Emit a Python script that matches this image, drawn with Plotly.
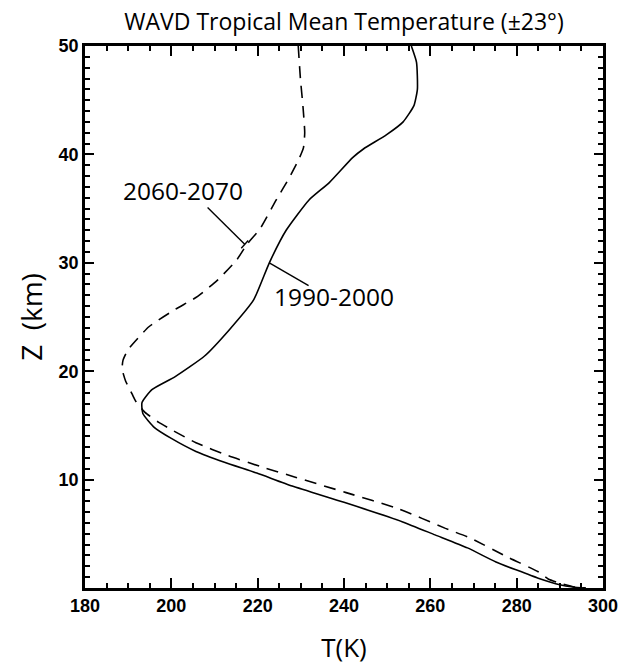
import plotly.graph_objects as go

# 1990-2000 profile (solid)
z_1990 = [50, 48.5, 46, 44.5, 43, 41.8, 40.5, 39.7, 37.4, 35.8, 33.0, 30.0, 26.6, 23.9,
          21.4, 19.5, 18.3, 17.1, 16.1, 14.8, 13.8, 12.6, 11.6, 10.6, 9.4, 7.9, 6.1,
          4.9, 3.7, 2.4, 1.65, 0.9, 0.3, 0.1, 0.0]
t_1990 = [255.6, 256.8, 257.0, 256.2, 253.7, 249.8, 244.5, 242.0, 236.6, 231.9, 226.6,
          222.7, 219.1, 213.6, 207.7, 200.9, 195.5, 193.2, 193.4, 196.1, 200.0, 205.7,
          212.3, 219.8, 228.0, 240.0, 253.6, 261.1, 268.6, 275.2, 280.0, 285.0, 290.0,
          293.0, 296.0]

# 2060-2070 profile (dashed)
z_2060 = [50, 47, 44.4, 42, 40.6, 39.7, 37.9, 35.8, 33.1, 31.7, 30.3, 28.4, 26.9, 25.7,
          24.1, 22.0, 21.0, 20.2, 19.1, 17.9, 17.2, 16.2, 15.3, 14.5, 13.4, 12.2, 11.2,
          10.2, 8.8, 7.3, 5.5, 4.6, 2.75, 1.5, 0.83, 0.45, 0.1, 0.0]
t_2060 = [229.4, 229.9, 230.5, 230.9, 230.6, 229.7, 227.4, 224.3, 220.5, 217.5, 215.2,
          210.7, 206.1, 200.9, 194.8, 190.0, 188.8, 188.6, 189.4, 190.9, 191.8, 193.9,
          197.0, 200.5, 205.7, 213.2, 220.7, 228.9, 240.5, 252.7, 263.5, 269.3, 278.4,
          285.0, 287.3, 290.0, 293.4, 296.0]

x_ticks = [180, 200, 220, 240, 260, 280, 300]
y_ticks = [10, 20, 30, 40, 50]

# label positions (data coords) and leader lines
lab_2060 = dict(text="2060-2070", T=202.7, z=36.7)
lab_1990 = dict(text="1990-2000", T=237.6, z=26.9)
leader_2060 = [(208.4, 35.1), (217.0, 31.7)]
leader_1990 = [(222.7, 30.0), (231.8, 27.9)]

fig = go.Figure()
fig.add_trace(go.Scatter(x=t_1990, y=z_1990, mode="lines",
                         line=dict(color="black", width=1.6, shape="spline", smoothing=0.5),
                         name="1990-2000"))
fig.add_trace(go.Scatter(x=t_2060, y=z_2060, mode="lines",
                         line=dict(color="black", width=1.6, dash="12px,8px",
                                   shape="spline", smoothing=0.5),
                         name="2060-2070"))

for (a, b) in [leader_2060, leader_1990]:
    fig.add_shape(type="line", x0=a[0], y0=a[1], x1=b[0], y1=b[1],
                  line=dict(color="black", width=1.4), xref="x", yref="y")
# small end tick on the 2060 leader
ex, ez = leader_2060[1]
fig.add_shape(type="line", x0=ex - 0.8, y0=ez - 0.35, x1=ex + 0.8, y1=ez + 0.35,
              line=dict(color="black", width=1.4), xref="x", yref="y")

for lab in [lab_2060, lab_1990]:
    fig.add_annotation(x=lab["T"], y=lab["z"], text=lab["text"], showarrow=False,
                       font=dict(family="Open Sans", size=24.5, color="black"))

axis_common = dict(showline=True, linewidth=2.5, linecolor="black", mirror="allticks",
                   ticks="inside", tickwidth=2, tickcolor="black", showgrid=False,
                   zeroline=False,
                   tickfont=dict(family="Liberation Sans", size=18, color="black",
                                 weight="bold"))

fig.update_xaxes(range=[180, 300], tickvals=x_ticks, ticklen=10,
                 minor=dict(dtick=5, tick0=180, ticklen=5, ticks="inside", tickwidth=2,
                            tickcolor="black", showgrid=False),
                 title=dict(text="T(K)", font=dict(family="Open Sans", size=26, color="black"),
                            standoff=24),
                 **axis_common)
fig.update_yaxes(range=[0, 50], tickvals=y_ticks, ticklen=9,
                 minor=dict(dtick=1, tick0=0, ticklen=5, ticks="inside", tickwidth=2,
                            tickcolor="black", showgrid=False),
                 title=dict(text="Z  (km)", font=dict(family="Open Sans", size=28, color="black"),
                            standoff=8),
                 **axis_common)

fig.update_layout(
    width=630, height=671,
    margin=dict(l=85, r=17, t=46, b=74),
    paper_bgcolor="white", plot_bgcolor="white",
    showlegend=False,
    title=dict(text="WAVD Tropical Mean Temperature (±23°)", xref="paper", x=0.5,
               xanchor="center", y=0.968, yanchor="middle",
               font=dict(family="Open Sans", size=23, color="black")),
)

fig.write_html("out.html")
